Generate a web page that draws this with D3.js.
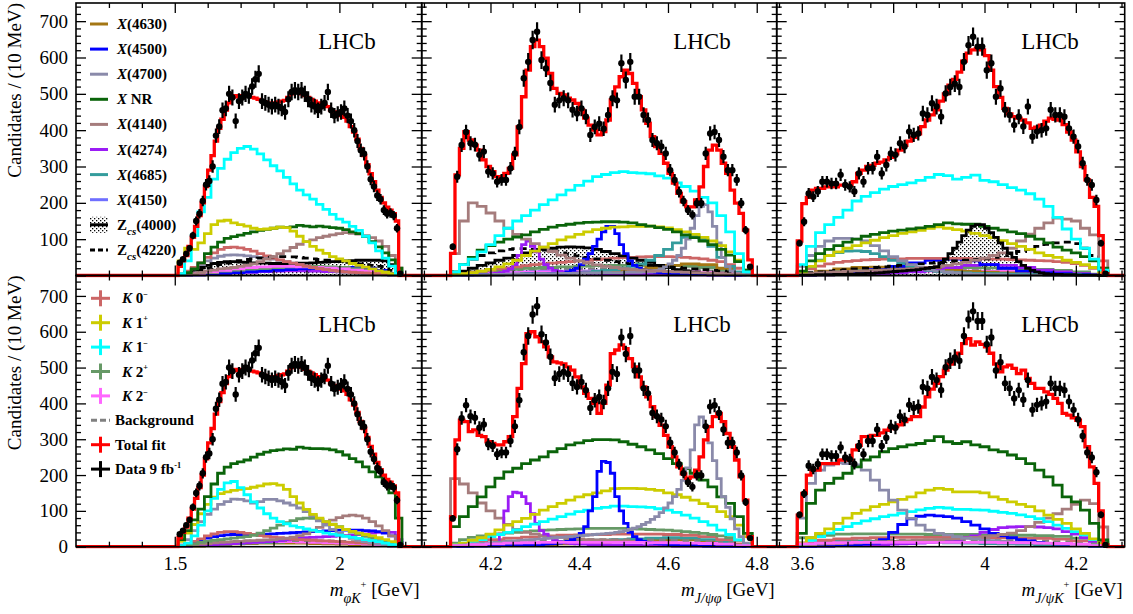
<!DOCTYPE html>
<html lang="en">
<head>
<meta charset="UTF-8">
<title>Fit projections</title>
<script src="https://d3js.org/d3.v7.min.js"></script>
<style>
  body { margin: 0; background: #fff; }
  svg { display: block; font-family: "Liberation Serif", "Times New Roman", serif; }
  .tick text { font-size: 19px; fill: #000; font-family: "Liberation Serif", "Times New Roman", serif; }
  .leg { font-size: 15px; font-weight: bold; }
</style>
</head>
<body>
<svg width="1133" height="614"></svg>
<script>
// ---------- data (10 MeV bins for data / total fit, coarser bins for components) ----------

// m(phi K+) : 1.51 - 2.19 GeV
const dataPhiK = [35,45,60,75,110,150,170,205,250,260, 300,385,410,455,460,500,490,425,480,490,
  500,495,520,540,555,480,475,470,465,470, 465,460,450,485,505,510,505,510,500,485,
  470,465,455,465,475,505,455,440,445,450, 460,440,425,400,370,345,335,300,265,245,
  220,210,180,170,172,165,130,5];
const fitPhiKTop = [25,40,55,80,105,135,165,200,245,290, 330,370,405,430,455,475,490,495,492,495,
  500,495,490,488,485,480,478,475,472,475, 478,480,482,490,500,505,505,500,495,490,
  485,480,475,470,468,465,455,450,445,440, 435,425,410,395,375,350,330,305,280,258,
  235,215,200,188,180,170,150,0];
const fitPhiKBot = fitPhiKTop;

// m(J/psi phi) : 4.11 - 4.79 GeV
const dataJpsiPhi = [79,272,359,395,364,360,332,341,286,281, 258,263,263,295,336,409,543,588,648,671,
  593,570,530,470,482,488,482,456,446,460, 437,387,409,418,404,442,488,482,584,538,
  588,492,492,442,428,373,364,355,336,290, 263,230,205,180,167,199,199,336,391,395,
  373,327,290,290,263,199,125,24];
const fitJpsiPhiTop = [61,277,350,396,373,359,345,318,300,286, 272,268,281,295,332,409,492,565,630,648,
  630,598,556,515,501,497,488,483,474,456, 433,414,400,387,396,428,483,519,547,565,
  556,529,492,456,419,382,355,336,309,281, 254,226,203,189,189,208,244,300,345,359,
  345,309,281,235,199,171,125,43];
const fitJpsiPhiBot = [84,298,353,349,321,326,311,307,293,288, 284,284,293,307,363,442,511,595,600,586,
  572,558,530,516,513,510,502,493,474,446, 428,414,400,372,400,451,539,549,563,553,
  525,502,474,446,418,391,363,339,311,279, 251,223,203,191,195,214,251,298,335,363,
  372,349,316,279,242,195,130,28];

// m(J/psi K+) : 3.59 - 4.27 GeV
const dataJpsiK = [89,148,226,217,231,258,258,253,253,277, 249,244,231,281,258,295,295,327,281,304,
  336,332,364,355,396,387,391,446,442,474, 465,437,501,519,528,519,588,634,657,630,
  630,565,584,492,515,456,442,414,437,410, 465,382,396,400,405,456,442,442,437,405,
  382,355,309,263,249,208,89,5];
const fitJpsiKTop = [95,198,215,235,240,240,244,244,244,249, 249,249,258,281,290,300,303,309,312,318,
  325,335,345,358,370,380,390,410,428,442, 456,480,500,524,540,560,590,612,621,625,
  621,605,565,520,490,460,445,437,433,428, 420,405,408,414,425,433,430,428,415,395,
  373,340,300,263,215,190,110,5];
const fitJpsiKBot = [88,149,200,214,214,232,232,232,232,242, 242,242,270,283,307,307,311,311,318,325,
  330,335,340,349,355,363,363,390,418,440, 456,475,493,510,521,540,567,581,563,572,
  565,558,540,510,488,502,507,498,483,493, 470,456,442,442,432,425,414,400,372,367,
  360,353,335,279,223,177,100,5];

// components, m(phi K+), top row
const phiKTop_K1m = [5,40,110,175,215,265,295,320,338,350, 355,348,335,318,302,288,270,252,235,222, 210,196,182,168,155,147,135,124,108,90, 68,48,26,6];
const phiKTop_K1p = [40,75,72,90,115,140,150,152,145,140, 136,130,127,128,130,133,132,122,108,93, 80,70,61,52,46,40,33,28,23,18, 13,9,5,2];
const phiKTop_XNR = [2,8,18,35,60,78,92,102,107,111, 116,120,124,127,130,133,132,134,138,136, 134,136,134,132,130,126,120,115,107,93, 79,62,43,20];
const phiKTop_X4140 = [0,2,5,8,12,15,18,20,22,25, 28,32,38,45,52,60,68,77,86,93, 98,104,108,112,115,118,116,114,110,104, 95,80,55,20];
const phiKTop_K0m = [5,12,22,35,50,62,72,77,78,76, 72,67,60,54,48,43,38,34,30,26, 22,19,16,14,12,10,9,8,7,6, 5,4,3,1];
const phiKTop_X4700 = [2,8,18,30,40,48,53,56,57,56, 54,52,50,48,45,42,38,34,30,26, 22,19,16,13,11,9,7,6,5,4, 3,2,1,0];
const phiKTop_Zcs4000 = [3,8,15,22,28,33,36,38,38,37, 36,35,34,34,33,33,33,33,34,34, 35,36,37,38,39,40,41,42,42,42, 42,40,30,10];
const phiKTop_Zcs4220 = [2,5,10,15,20,25,30,34,38,41, 44,46,48,50,51,52,52,51,50,48, 46,44,42,40,38,36,34,32,30,28, 25,20,14,5];
const phiKTop_K2m = [2,6,10,14,18,22,24,25,25,24,22,20,18,15,12,8,3];
const phiKTop_X4500 = [1,2,4,6,8,10,12,14,16,18,20,21,22,22,20,14,5];
const phiKTop_X4274 = [1,2,3,5,7,9,11,12,13,13,12,11,10,8,6,4,1];
const phiKTop_K2p = [2,5,8,12,15,18,20,22,24,25,25,24,22,19,15,10,3];
const phiKTop_X4685 = [1,3,6,9,12,14,16,17,17,16,15,13,11,9,7,4,1];
const phiKTop_Bkg = [2,5,8,10,12,13,14,14,14,14,13,13,12,11,9,6,2];

// components, m(phi K+), bottom row
const phiKBot_XNR = [20,45,75,105,140,175,205,222,232,237, 242,250,258,264,268,270,273,272,278,275, 274,274,273,270,265,256,246,237,223,209, 195,177,150,80];
const phiKBot_K1m = [3,10,30,60,100,135,160,178,182,165, 145,125,108,92,80,70,64,58,54,50, 46,42,38,35,32,29,26,23,20,17, 14,10,6,2];
const phiKBot_K1p = [15,38,62,92,118,138,148,153,157,160, 162,166,170,175,176,172,160,140,122,104, 90,80,70,62,55,48,43,38,34,30, 25,20,14,5];
const phiKBot_X4700 = [5,20,45,70,90,105,118,126,133,132, 128,122,126,132,132,128,122,116,108,98, 86,72,60,48,38,30,23,18,14,11, 8,5,3,1];
const phiKBot_K2p = [2,5,8,12,15,18,20,22,24,26, 28,32,38,45,52,60,67,73,78,80, 79,76,70,63,56,48,41,35,29,23, 17,12,7,2];
const phiKBot_X4140 = [1,3,5,7,9,11,12,13,14,15, 16,17,18,19,20,22,24,27,31,36, 44,54,64,74,81,86,88,86,80,70, 58,45,30,10];
const phiKBot_K0m = [3,8,15,22,30,36,40,42,42,40, 37,34,31,29,27,25,23,21,20,19, 18,17,16,15,14,13,12,11,10,9, 8,6,4,1];
const phiKBot_X4500 = [2,6,12,18,24,28,31,33,34,34, 34,34,35,35,36,37,38,39,40,41, 42,43,44,45,46,46,46,46,45,44, 42,38,30,12];
const phiKBot_X4274 = [1,2,3,4,5,6,7,8,9,10, 11,12,13,14,15,17,19,21,23,25, 26,27,28,29,30,31,32,34,36,38, 40,42,40,20];
const phiKBot_Bkg = [2,6,10,13,15,16,17,17,17,17,16,16,15,14,12,9,4];
const phiKBot_K2m = [2,5,8,10,12,13,14,14,14,13,12,11,10,9,7,5,2];
const phiKBot_X4685 = [1,3,5,7,9,11,12,13,14,14,14,13,12,10,8,5,2];
const phiKBot_X4630 = [1,2,4,6,8,9,10,10,10,10,9,8,7,6,5,3,1];

// components, m(J/psi phi), top row
const jpsiPhiTop_K1m = [10,30,45,65,85,110,130,150,165,180, 195,208,222,235,248,260,272,278,283,286, 283,282,280,274,268,255,245,232,215,200, 165,120,60,10];
const jpsiPhiTop_X4140 = [60,150,200,190,172,150,130,113,100,88, 78,66,56,48,40,34,29,25,22,19, 17,15,13,12,11,10,9,8,7,6, 5,4,3,1];
const jpsiPhiTop_XNR = [10,30,50,70,82,92,100,106,112,120, 127,133,138,141,144,146,147,148,148,147, 145,140,136,132,127,120,112,104,95,85, 72,56,38,15];
const jpsiPhiTop_K1p = [2,5,8,12,17,24,32,42,55,67, 78,88,98,106,113,120,126,130,133,134, 135,135,136,134,131,126,120,113,105,95, 82,65,42,15];
const jpsiPhiTop_K0m = [3,6,9,12,15,18,21,24,27,30, 32,34,36,38,40,42,44,46,48,49, 50,51,52,52,52,51,50,48,46,42, 38,30,20,8];
const jpsiPhiTop_Zcs4000 = [5,12,20,28,35,42,48,55,62,68, 72,75,78,79,78,76,72,66,60,54, 48,42,36,28,22,16,12,9,6,5, 4,3,2,1];
const jpsiPhiTop_Zcs4220 = [10,30,45,55,62,68,72,74,74,72, 70,66,62,58,54,50,46,42,38,35, 32,30,28,26,24,22,20,18,16,14, 12,10,7,3];
const jpsiPhiTop_X4685 = [1,1,2,2,3,3,4,4,5,5, 6,6,7,8,9,10,12,14,16,20, 25,32,42,55,72,90,105,110,100,80, 50,25,10,3];
const jpsiPhiTop_X4500 = [1,1,1,1,1,2,2,2,2,2, 2,2,3,3,3,3,3,4,4,4, 4,4,5,5,5,
  5,10,15,20,30,45,60,80,100,120,135,135,115,85,60,40,28,20,15,
  12,10,9,8,7,6,5,5,4,4, 3,3,3,3,2,2,2,2,1,1, 1,1,0,0];
const jpsiPhiTop_X4274 = [1,1,1,2,2,2,3,3,4,5,6,8,12,18,
  30,55,85,95,80,65,45,30,20,14,
  11,10,9,8,8,7,7,6,6,6, 5,5,5,5,4,4,4,4,4,3, 3,3,3,3,3,2,2,2,2,2, 2,2,2,2,1,1,1,1,1,1, 1,1,1,0];
const jpsiPhiTop_X4700 = [1,1,1,1,2,2,2,2,2,3, 3,3,3,3,4,4,4,4,4,5, 5,5,5,5,6,6,6,6,6,7,
  7,7,7,7,8,8,8,8,8,9, 9,9,9,10,10,
  10,14,18,24,32,42,55,75,100,130,165,190,195,175,135,90,50,25,12,6,3,1,0];
const jpsiPhiTop_K2p = [5,10,14,17,20,22,24,26,27,28,28,28,27,25,22,16,6];
const jpsiPhiTop_K2m = [2,4,6,8,9,10,11,12,12,12,12,11,11,10,8,6,2];
const jpsiPhiTop_Bkg = [4,8,12,14,16,17,18,18,18,18,18,17,16,15,13,10,4];
const jpsiPhiTop_X4630 = [0,1,2,3,4,5,6,8,10,13,17,22,28,32,30,20,6];
const jpsiPhiTop_X4150 = [2,4,6,8,10,11,12,12,12,11,10,9,8,7,6,4,2];

// components, m(J/psi phi), bottom row
const jpsiPhiBot_XNR = [56,84,112,139,167,191,209,219,232,242, 251,265,274,284,290,296,299,299,298,293, 286,279,270,260,246,232,218,205,186,167, 139,121,84,37];
const jpsiPhiBot_K1p = [5,10,18,25,35,47,60,70,79,90, 102,112,121,130,139,145,150,156,162,163, 163,162,160,157,150,145,138,130,120,112, 98,84,60,28];
const jpsiPhiBot_K1m = [5,10,15,20,28,34,40,47,56,63, 70,77,84,91,98,102,107,110,113,113, 112,111,110,106,102,96,88,80,70,60, 46,34,19,5];
const jpsiPhiBot_X4140 = [190,175,150,122,100,80,62,48,40,35, 31,28,26,24,22,20,19,18,17,16, 15,14,13,12,11,10,9,8,7,6, 5,4,3,1];
const jpsiPhiBot_K2p = [10,20,26,30,33,36,38,40,42,44, 46,47,48,49,50,51,51,51,51,51, 50,49,48,47,46,44,42,40,37,34, 30,25,18,8];
const jpsiPhiBot_X4700 = [2,3,4,5,6,7,8,9,10,11, 12,13,14,15,16,17,18,19,20,21, 22,23,24,25,26,27,28,29,30,31,
  32,33,34,35,36,37,38,40,42,45, 48,52,56,62,68,76,84,95,108,122, 140,160,185,220,270,340,362,335,290,240, 190,140,110,78,50,28,10,2];
const jpsiPhiBot_X4500 = [1,1,1,1,1,2,2,2,2,2, 2,3,3,3,3,4,4,4,5,5, 6,7,8,9,10,
  12,15,20,28,37,56,100,140,210,238,235,205,140,100,65,40,28,20,15,
  12,10,9,8,7,6,5,5,4,4, 3,3,3,2,2,2,2,1,1,1, 1,1,0,0];
const jpsiPhiBot_X4274 = [1,1,2,2,3,3,4,5,6,8,
  12,35,100,140,152,150,140,120,92,65, 45,35,25,18,14,12,10,9,8,7,
  7,6,6,6,5,5,5,5,4,4, 4,4,4,3,3,3,3,3,3,3, 2,2,2,2,2,2,2,2,2,1, 1,1,1,1,1,1,1,0];
const jpsiPhiBot_K0m = [8,15,20,24,27,30,32,33,34,35,35,35,34,32,28,20,8];
const jpsiPhiBot_Bkg = [5,10,14,16,18,19,20,20,20,20,20,19,18,17,15,11,5];
const jpsiPhiBot_K2m = [3,6,8,10,11,12,12,12,12,12,12,11,11,10,9,7,3];
const jpsiPhiBot_X4685 = [2,4,6,8,10,12,14,16,18,20,22,24,25,24,20,14,5];
const jpsiPhiBot_X4630 = [1,2,3,4,5,6,8,10,12,14,16,18,20,19,16,10,3];

// components, m(J/psi K+), top row
const jpsiKTop_K1m = [30,80,118,140,160,180,205,218,228,238, 245,250,255,262,270,278,275,265,270,276, 262,258,250,242,235,225,210,190,160,128, 100,75,45,15];
const jpsiKTop_XNR = [12,40,60,72,82,92,100,108,113,118, 122,125,128,131,135,140,145,142,141,141, 135,130,125,120,115,108,100,90,78,70, 62,52,40,20];
const jpsiKTop_K1p = [10,25,40,55,65,75,82,90,97,104, 110,116,120,124,130,134,130,126,122,116, 110,104,96,88,80,72,62,55,50,42, 36,30,22,10];
const jpsiKTop_X4700 = [25,55,80,95,102,102,100,95,82,68, 52,40,30,22,16,12,9,7,5,4, 3,2,2,1,1,1,1,0,0,0, 0,0,0,0];
const jpsiKTop_X4685 = [10,25,42,55,63,67,68,66,60,52, 42,33,25,19,14,11,9,8,7,6, 6,5,5,4,4,3,3,3,2,2, 2,1,1,0];
const jpsiKTop_K0m = [8,18,26,32,36,39,41,43,44,45, 46,46,47,47,47,47,47,47,47,46, 46,45,45,44,43,42,41,40,38,36, 33,28,20,8];
const jpsiKTop_X4140 = [3,5,7,9,10,11,12,13,14,15, 16,17,18,20,22,25,28,32,36,42, 48,55,62,75,95,114,130,145,158,155, 150,130,112,40];
const jpsiKTop_Zcs4000 = [1,1,1,1,2,2,2,2,3,3, 3,4,4,5,5,6,6,7,8,9, 10,11,12,13,14,15,16,18,20,22,
  24,35,45,60,75,92,110,125,135,140,140,130,118,105,90,75,62,50,38,28,20,14,
  10,7,5,4,3,3,2,2,2,1,1,1,1,1,0,0];
const jpsiKTop_Zcs4220 = [5,8,10,12,14,16,18,20,22,24, 26,28,30,32,34,36,38,40,42,44, 46,50,55,60,66,72,80,86,90,92, 88,75,55,20];
const jpsiKTop_X4500 = [2,4,6,10,16,25,35,42,45,40,30,20,12,8,5,3,1];
const jpsiKTop_X4274 = [1,2,3,4,5,7,10,15,22,28,30,28,22,15,10,5,2];
const jpsiKTop_X4630 = [5,12,18,22,23,22,20,17,14,11,9,7,5,4,3,2,1];
const jpsiKTop_K2m = [3,6,8,10,11,12,12,12,12,12,11,11,10,9,8,6,3];
const jpsiKTop_K2p = [5,10,14,17,19,20,21,22,22,22,21,20,19,17,14,10,4];
const jpsiKTop_Bkg = [4,8,11,13,14,15,15,15,15,15,15,14,14,13,11,8,3];

// components, m(J/psi K+), bottom row
const jpsiKBot_XNR = [37,121,158,177,191,205,223,242,251,265, 274,279,284,288,296,307,293,288,293,284, 279,270,265,256,246,232,214,195,172,139, 125,102,65,19];
const jpsiKBot_X4700 = [80,177,214,228,234,232,228,214,186,158, 130,102,79,60,46,37,33,28,24,22, 19,17,15,13,12,11,10,9,8,7, 6,5,4,2];
const jpsiKBot_K1p = [10,25,37,50,65,80,93,102,112,118, 125,132,139,150,158,163,160,153,153,153, 150,139,132,125,118,112,100,88,76,65, 50,37,22,8];
const jpsiKBot_K1m = [8,18,28,38,48,56,65,72,78,84, 88,93,98,103,107,110,108,104,104,103, 102,99,96,93,89,84,78,70,60,51, 42,33,20,6];
const jpsiKBot_X4500 = [1,1,2,2,3,4,5,7,10,20, 40,62,78,85,88,86,84,80,70,60, 50,37,30,25,20,16,12,9,7,5, 4,3,2,1];
const jpsiKBot_X4274 = [1,1,2,2,3,3,4,4,5,6, 7,8,9,10,12,14,17,20,25,30, 40,48,53,55,56,56,55,53,50,42, 35,25,15,5];
const jpsiKBot_X4140 = [3,5,7,8,9,10,11,12,13,14, 15,16,17,18,19,20,21,22,24,26, 28,31,34,38,45,56,68,80,92,105, 118,130,120,55];
const jpsiKBot_K2p = [25,32,35,36,36,35,35,34,34,34,33,33,32,31,29,24,12];
const jpsiKBot_K0m = [10,18,22,24,25,26,26,26,26,26,25,25,24,23,21,16,6];
const jpsiKBot_Bkg = [6,12,15,17,18,18,18,18,18,18,18,17,17,16,14,10,4];
const jpsiKBot_K2m = [8,10,11,12,12,12,12,12,12,12,12,11,11,10,9,7,3];
const jpsiKBot_X4685 = [10,14,16,16,15,14,13,12,11,10,9,8,7,6,5,4,2];

// ---------- styles / layout ----------
const STYLE = {
  X4630: {color: '#a47714'}, X4500: {color: '#0000ff'}, X4700: {color: '#8a8aaa'},
  XNR: {color: '#0a640a'}, X4140: {color: '#a57c7c'}, X4274: {color: '#9b1cf5'},
  X4685: {color: '#349c9c'}, X4150: {color: '#6f6fff'},
  Zcs4000: {color: '#000'}, Zcs4220: {color: '#000', dash: '7,5'},
  K0m: {color: '#cc6666'}, K1p: {color: '#cccc00'}, K1m: {color: '#00ffff'},
  K2p: {color: '#669966'}, K2m: {color: '#ff66ff'}, Bkg: {color: '#808080', dash: '7,5'}
};

const COLS = [
  {x0: 76, x1: 421.7, dom: [1.2, 2.25], lo: 1.51, hi: 2.19,
   major: [1.5, 2], minor: d3.range(13, 23).map(v => v / 10),
   title: [{t: 'm', i: 1}, {t: 'φK', i: 1, sub: 1}, {t: '+', sup: 1}, {t: ' [GeV]'}]},
  {x0: 421.7, x1: 776.7, dom: [4.045, 4.845], lo: 4.11, hi: 4.79,
   major: [4.2, 4.4, 4.6, 4.8], minor: d3.range(81, 97).map(v => v / 20),
   title: [{t: 'm', i: 1}, {t: 'J/ψφ', i: 1, sub: 1}, {t: ' [GeV]'}]},
  {x0: 776.7, x1: 1124.7, dom: [3.545, 4.307], lo: 3.59, hi: 4.27,
   major: [3.6, 3.8, 4, 4.2], minor: d3.range(71, 87).map(v => v / 20),
   title: [{t: 'm', i: 1}, {t: 'J/ψK', i: 1, sub: 1}, {t: '+', sup: 1}, {t: ' [GeV]'}]}
];
const ROWS = [
  {y0: 3, y1: 275.5, ymax: 750, lhcbY: 49},
  {y0: 275.5, y1: 546.7, ymax: 757, lhcbY: 332}
];

const comp = (key, vals) => ({key, vals});
const PANELS = [
  {row: 0, col: 0, data: dataPhiK, fit: fitPhiKTop, comps: [
    comp('Bkg', phiKTop_Bkg), comp('X4685', phiKTop_X4685), comp('X4274', phiKTop_X4274),
    comp('X4500', phiKTop_X4500), comp('K2p', phiKTop_K2p), comp('K2m', phiKTop_K2m),
    comp('Zcs4000', phiKTop_Zcs4000), comp('X4700', phiKTop_X4700), comp('K0m', phiKTop_K0m),
    comp('Zcs4220', phiKTop_Zcs4220), comp('X4140', phiKTop_X4140), comp('XNR', phiKTop_XNR),
    comp('K1p', phiKTop_K1p), comp('K1m', phiKTop_K1m)]},
  {row: 0, col: 1, data: dataJpsiPhi, fit: fitJpsiPhiTop, comps: [
    comp('Bkg', jpsiPhiTop_Bkg), comp('X4150', jpsiPhiTop_X4150), comp('K2m', jpsiPhiTop_K2m),
    comp('K2p', jpsiPhiTop_K2p), comp('X4630', jpsiPhiTop_X4630), comp('K0m', jpsiPhiTop_K0m),
    comp('Zcs4000', jpsiPhiTop_Zcs4000), comp('Zcs4220', jpsiPhiTop_Zcs4220),
    comp('X4685', jpsiPhiTop_X4685), comp('X4274', jpsiPhiTop_X4274), comp('X4500', jpsiPhiTop_X4500),
    comp('X4700', jpsiPhiTop_X4700), comp('X4140', jpsiPhiTop_X4140), comp('K1p', jpsiPhiTop_K1p),
    comp('XNR', jpsiPhiTop_XNR), comp('K1m', jpsiPhiTop_K1m)]},
  {row: 0, col: 2, data: dataJpsiK, fit: fitJpsiKTop, comps: [
    comp('Bkg', jpsiKTop_Bkg), comp('K2m', jpsiKTop_K2m), comp('K2p', jpsiKTop_K2p),
    comp('X4630', jpsiKTop_X4630), comp('X4274', jpsiKTop_X4274), comp('X4500', jpsiKTop_X4500),
    comp('K0m', jpsiKTop_K0m), comp('X4685', jpsiKTop_X4685), comp('Zcs4220', jpsiKTop_Zcs4220),
    comp('X4700', jpsiKTop_X4700), comp('X4140', jpsiKTop_X4140), comp('K1p', jpsiKTop_K1p),
    comp('XNR', jpsiKTop_XNR), comp('Zcs4000', jpsiKTop_Zcs4000), comp('K1m', jpsiKTop_K1m)]},
  {row: 1, col: 0, data: dataPhiK, fit: fitPhiKBot, comps: [
    comp('X4630', phiKBot_X4630), comp('X4685', phiKBot_X4685), comp('K2m', phiKBot_K2m),
    comp('Bkg', phiKBot_Bkg), comp('X4274', phiKBot_X4274), comp('X4500', phiKBot_X4500),
    comp('K0m', phiKBot_K0m), comp('X4140', phiKBot_X4140), comp('K2p', phiKBot_K2p),
    comp('X4700', phiKBot_X4700), comp('K1p', phiKBot_K1p), comp('K1m', phiKBot_K1m),
    comp('XNR', phiKBot_XNR)]},
  {row: 1, col: 1, data: dataJpsiPhi, fit: fitJpsiPhiBot, comps: [
    comp('X4630', jpsiPhiBot_X4630), comp('X4685', jpsiPhiBot_X4685), comp('Bkg', jpsiPhiBot_Bkg),
    comp('K0m', jpsiPhiBot_K0m), comp('K2p', jpsiPhiBot_K2p), comp('X4140', jpsiPhiBot_X4140),
    comp('X4274', jpsiPhiBot_X4274), comp('K1m', jpsiPhiBot_K1m), comp('K1p', jpsiPhiBot_K1p),
    comp('X4500', jpsiPhiBot_X4500), comp('XNR', jpsiPhiBot_XNR), comp('X4700', jpsiPhiBot_X4700),
    comp('K2m', jpsiPhiBot_K2m)]},
  {row: 1, col: 2, data: dataJpsiK, fit: fitJpsiKBot, comps: [
    comp('X4685', jpsiKBot_X4685), comp('Bkg', jpsiKBot_Bkg), comp('K0m', jpsiKBot_K0m),
    comp('K2p', jpsiKBot_K2p), comp('X4274', jpsiKBot_X4274), comp('X4500', jpsiKBot_X4500),
    comp('X4140', jpsiKBot_X4140), comp('K1m', jpsiKBot_K1m), comp('K1p', jpsiKBot_K1p),
    comp('X4700', jpsiKBot_X4700), comp('XNR', jpsiKBot_XNR), comp('K2m', jpsiKBot_K2m)]}
];

// ---------- drawing ----------
const svg = d3.select('svg');
const defs = svg.append('defs');
const pat = defs.append('pattern').attr('id', 'dots')
  .attr('width', 4).attr('height', 4).attr('patternUnits', 'userSpaceOnUse');
pat.append('rect').attr('width', 1.3).attr('height', 1.3).attr('fill', '#000');
pat.append('rect').attr('x', 2).attr('y', 2).attr('width', 1.3).attr('height', 1.3).attr('fill', '#000');

// histogram -> points for a step line
function steps(vals, lo, hi) {
  const w = (hi - lo) / vals.length;
  const pts = [[lo, 0]].concat(vals.map((v, i) => [lo + i * w, v]));
  pts.push([hi, vals[vals.length - 1]], [hi, 0]);
  return pts;
}

// rich text with italic / sub / sup parts
function richText(sel, parts, base) {
  let shift = 0;
  parts.forEach(p => {
    const ts = sel.append('tspan').text(p.t);
    if (p.i) ts.attr('font-style', 'italic');
    let target = 0, size = null;
    if (p.sub) { target = base * 0.36; size = base * 0.74; }
    if (p.sup) { target = -base * 0.42; size = base * 0.55; }
    if (size) ts.attr('font-size', size);
    ts.attr('dy', target - shift);
    shift = target;
  });
}

PANELS.forEach((p, k) => {
  const c = COLS[p.col], r = ROWS[p.row];
  const x = d3.scaleLinear().domain(c.dom).range([c.x0, c.x1]);
  const y = d3.scaleLinear().domain([0, r.ymax]).range([r.y1, r.y0]);
  const g = svg.append('g');

  defs.append('clipPath').attr('id', 'clip' + k).append('rect')
    .attr('x', c.x0).attr('y', r.y0).attr('width', c.x1 - c.x0).attr('height', r.y1 - r.y0 + 2);
  const plot = g.append('g').attr('clip-path', `url(#clip${k})`);

  const line = d3.line().x(d => x(d[0])).y(d => y(d[1])).curve(d3.curveStepAfter);
  const area = d3.area().x(d => x(d[0])).y0(y(0)).y1(d => y(d[1])).curve(d3.curveStepAfter);

  // dotted Zcs(4000) area underneath everything
  p.comps.filter(cp => cp.key === 'Zcs4000').forEach(cp => {
    plot.append('path').attr('d', area(steps(cp.vals, c.lo, c.hi))).attr('fill', 'url(#dots)');
  });

  p.comps.forEach(cp => {
    const st = STYLE[cp.key];
    plot.append('path')
      .attr('d', line(steps(cp.vals, c.lo, c.hi)))
      .attr('fill', 'none').attr('stroke', st.color).attr('stroke-width', 2.8)
      .attr('stroke-dasharray', st.dash || null);
  });

  // total fit, running along zero outside the phase space
  const fitPts = [[c.dom[0], 0]].concat(steps(p.fit, c.lo, c.hi).slice(1), [[c.dom[1], 0]]);
  plot.append('path').attr('d', line(fitPts))
    .attr('fill', 'none').attr('stroke', '#ff0000').attr('stroke-width', 3.3);

  // data with Poisson errors
  const w = (c.hi - c.lo) / p.data.length;
  const pts = p.data.map((v, i) => ({m: c.lo + (i + 0.5) * w, v}));
  plot.append('g').selectAll('line').data(pts).join('line')
    .attr('x1', d => x(d.m)).attr('x2', d => x(d.m))
    .attr('y1', d => y(d.v - Math.sqrt(d.v))).attr('y2', d => y(d.v + Math.sqrt(d.v)))
    .attr('stroke', '#000').attr('stroke-width', 2.2);
  plot.append('g').selectAll('circle').data(pts).join('circle')
    .attr('cx', d => x(d.m)).attr('cy', d => y(d.v)).attr('r', 3.2).attr('fill', '#000');

  // axes: ticks on all four sides pointing inwards
  const yMajor = d3.range(0, 800, 100);
  const yMinor = d3.range(20, r.ymax, 20).filter(v => v % 100 !== 0);
  const clean = s => {
    s.attr('font-family', null).attr('font-size', null);
    s.select('.domain').remove();
    s.selectAll('line').attr('stroke-width', 1.3);
  };
  const yLab = v => (p.col === 0 && (p.row === 1 || v > 0)) ? v : '';

  g.append('g').attr('transform', `translate(${c.x0},0)`)
    .call(d3.axisLeft(y).tickValues(yMinor).tickSizeInner(-5).tickSizeOuter(0).tickFormat('')).call(clean);
  g.append('g').attr('transform', `translate(${c.x0},0)`)
    .call(d3.axisLeft(y).tickValues(yMajor).tickSizeInner(-10).tickSizeOuter(0).tickPadding(8).tickFormat(yLab))
    .call(clean);
  g.append('g').attr('transform', `translate(${c.x1},0)`)
    .call(d3.axisRight(y).tickValues(yMinor).tickSizeInner(-5).tickSizeOuter(0).tickFormat('')).call(clean);
  g.append('g').attr('transform', `translate(${c.x1},0)`)
    .call(d3.axisRight(y).tickValues(yMajor).tickSizeInner(-10).tickSizeOuter(0).tickFormat('')).call(clean);

  const xMinor = c.minor.filter(v => !c.major.some(m => Math.abs(m - v) < 1e-6));
  const xLab = p.row === 1 ? (v => String(+v.toFixed(2))) : '';
  g.append('g').attr('transform', `translate(0,${r.y1})`)
    .call(d3.axisBottom(x).tickValues(xMinor).tickSizeInner(-5).tickSizeOuter(0).tickFormat('')).call(clean);
  g.append('g').attr('transform', `translate(0,${r.y1})`)
    .call(d3.axisBottom(x).tickValues(c.major).tickSizeInner(-10).tickSizeOuter(0).tickPadding(10).tickFormat(xLab))
    .call(clean);
  g.append('g').attr('transform', `translate(0,${r.y0})`)
    .call(d3.axisTop(x).tickValues(xMinor).tickSizeInner(-5).tickSizeOuter(0).tickFormat('')).call(clean);
  g.append('g').attr('transform', `translate(0,${r.y0})`)
    .call(d3.axisTop(x).tickValues(c.major).tickSizeInner(-10).tickSizeOuter(0).tickFormat('')).call(clean);

  g.append('rect').attr('x', c.x0).attr('y', r.y0)
    .attr('width', c.x1 - c.x0).attr('height', r.y1 - r.y0)
    .attr('fill', 'none').attr('stroke', '#000').attr('stroke-width', 1.6);

  g.append('text').attr('x', c.x1 - 46).attr('y', r.lhcbY).attr('text-anchor', 'end')
    .attr('font-size', 23).text('LHCb');

  if (p.row === 1) {
    const t = g.append('text').attr('x', c.x1 - 2).attr('y', 596)
      .attr('text-anchor', 'end').attr('font-size', 19);
    richText(t, c.title, 19);
  }
  if (p.col === 0) {
    g.append('text').attr('transform', `translate(21,${r.y0}) rotate(-90)`)
      .attr('text-anchor', 'end').attr('font-size', 19).text('Candidates / (10 MeV)');
  }
});

// ---------- legends ----------
const legTop = [
  {key: 'X4630', label: [{t: 'X', i: 1}, {t: '(4630)'}]},
  {key: 'X4500', label: [{t: 'X', i: 1}, {t: '(4500)'}]},
  {key: 'X4700', label: [{t: 'X', i: 1}, {t: '(4700)'}]},
  {key: 'XNR', label: [{t: 'X', i: 1}, {t: ' NR'}]},
  {key: 'X4140', label: [{t: 'X', i: 1}, {t: '(4140)'}]},
  {key: 'X4274', label: [{t: 'X', i: 1}, {t: '(4274)'}]},
  {key: 'X4685', label: [{t: 'X', i: 1}, {t: '(4685)'}]},
  {key: 'X4150', label: [{t: 'X', i: 1}, {t: '(4150)'}]},
  {key: 'Zcs4000', label: [{t: 'Z'}, {t: 'cs', i: 1, sub: 1}, {t: '(4000)'}]},
  {key: 'Zcs4220', label: [{t: 'Z'}, {t: 'cs', i: 1, sub: 1}, {t: '(4220)'}]}
];
const lt = svg.append('g').attr('class', 'leg');
legTop.forEach((e, i) => {
  const cy = 24 + 25.1 * i, st = STYLE[e.key];
  if (e.key === 'Zcs4000') {
    lt.append('rect').attr('x', 90).attr('y', cy - 8).attr('width', 18).attr('height', 16).attr('fill', 'url(#dots)');
  }
  lt.append('line').attr('x1', 90).attr('x2', 108).attr('y1', cy).attr('y2', cy)
    .attr('stroke', st.color).attr('stroke-width', 3).attr('stroke-dasharray', st.dash ? '5,3' : null);
  const t = lt.append('text').attr('x', 117).attr('y', cy + 5);
  richText(t, e.label, 15);
});

const legBot = [
  {color: STYLE.K0m.color, x: 122, label: [{t: 'K', i: 1}, {t: '  0'}, {t: '−', sup: 1}]},
  {color: STYLE.K1p.color, x: 122, label: [{t: 'K', i: 1}, {t: '  1'}, {t: '+', sup: 1}]},
  {color: STYLE.K1m.color, x: 122, label: [{t: 'K', i: 1}, {t: '  1'}, {t: '−', sup: 1}]},
  {color: STYLE.K2p.color, x: 122, label: [{t: 'K', i: 1}, {t: '  2'}, {t: '+', sup: 1}]},
  {color: STYLE.K2m.color, x: 122, label: [{t: 'K', i: 1}, {t: '  2'}, {t: '−', sup: 1}]},
  {color: STYLE.Bkg.color, x: 115, dash: true, label: [{t: 'Background'}]},
  {color: '#ff0000', x: 115, label: [{t: 'Total fit'}]},
  {color: '#000', x: 115, label: [{t: 'Data 9 fb'}, {t: '-1', sup: 1}]}
];
const lb = svg.append('g').attr('class', 'leg');
legBot.forEach((e, i) => {
  const cy = 298.3 + 24.4 * i;
  lb.append('line').attr('x1', 91).attr('x2', 110).attr('y1', cy).attr('y2', cy)
    .attr('stroke', e.color).attr('stroke-width', 3).attr('stroke-dasharray', e.dash ? '6,3' : null);
  if (!e.dash) {
    lb.append('line').attr('x1', 100.5).attr('x2', 100.5).attr('y1', cy - 8).attr('y2', cy + 8)
      .attr('stroke', e.color).attr('stroke-width', 3);
  }
  const t = lb.append('text').attr('x', e.x).attr('y', cy + 5);
  richText(t, e.label, 15);
});
</script>
</body>
</html>
